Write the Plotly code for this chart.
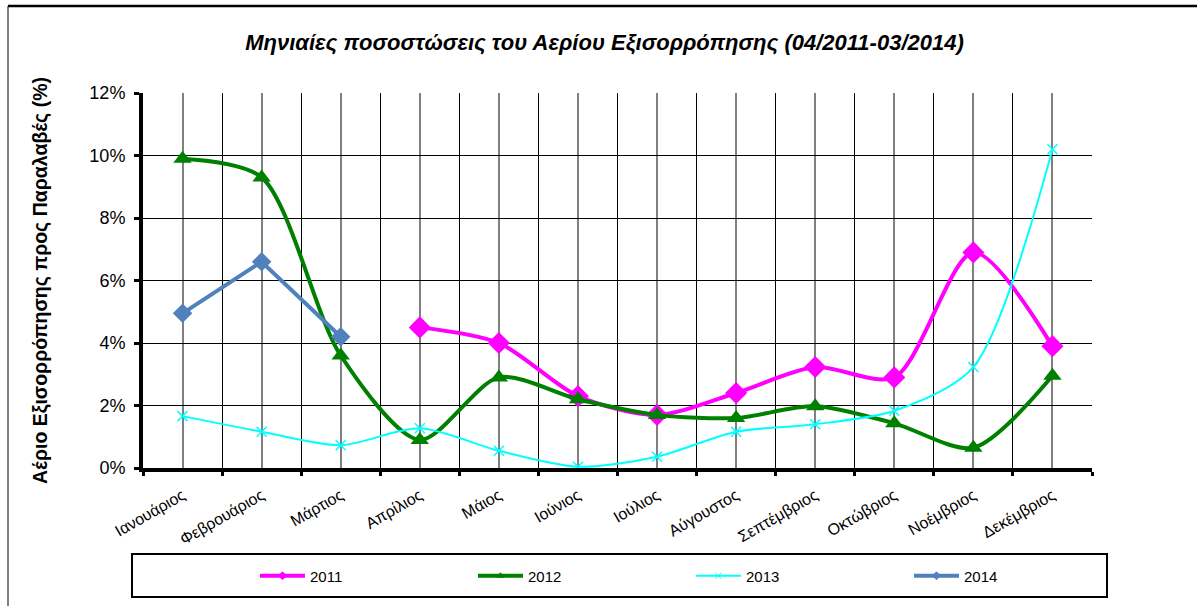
import plotly.graph_objects as go

months = ["Ιανουάριος", "Φεβρουάριος", "Μάρτιος", "Απρίλιος", "Μάιος", "Ιούνιος",
          "Ιούλιος", "Αύγουστος", "Σεπτέμβριος", "Οκτώβριος", "Νοέμβριος", "Δεκέμβριος"]
y2011 = [None, None, None, 4.5, 4.0, 2.3, 1.7, 2.4, 3.23, 2.9, 6.9, 3.9]
y2012 = [9.9, 9.3, 3.6, 0.9, 2.9, 2.2, 1.7, 1.6, 1.98, 1.43, 0.65, 2.95]
y2013 = [1.66, 1.16, 0.73, 1.27, 0.55, 0.04, 0.36, 1.16, 1.4, 1.83, 3.23, 10.2]
y2014 = [4.95, 6.6, 4.2, None, None, None, None, None, None, None, None, None]
yticks = [0, 2, 4, 6, 8, 10, 12]
ytick_labels = ["0%", "2%", "4%", "6%", "8%", "10%", "12%"]

x = list(range(len(months)))
FONT = "Arial, Liberation Sans, sans-serif"

series = [
    ("2011", y2011, dict(color="#FF00FF", width=4, shape="spline", smoothing=0.8),
     dict(symbol="diamond", size=17, color="#FF00FF"), "diamond"),
    ("2012", y2012, dict(color="#008000", width=4, shape="spline", smoothing=0.8),
     dict(symbol="triangle-up", size=16, color="#008000"), "triangle-up"),
    ("2013", y2013, dict(color="#00FFFF", width=2, shape="spline", smoothing=0.8),
     dict(symbol="x-thin", size=10, color="#00FFFF", line=dict(color="#00FFFF", width=1.5)),
     "x-thin"),
    ("2014", y2014, dict(color="#4F81BD", width=4),
     dict(symbol="diamond", size=15, color="#4F81BD"), "diamond"),
]

fig = go.Figure()
for name, ys, line, marker, sym in series:
    fig.add_trace(go.Scatter(x=x, y=ys, name=name, mode="lines+markers",
                             line=line, marker=marker, showlegend=False))
for name, ys, line, marker, sym in series:
    lw = line["width"]
    fig.add_trace(go.Scatter(x=[None], y=[None], name=name, mode="lines+markers",
                             line=dict(color=line["color"], width=lw),
                             marker=dict(symbol=sym, size=6, color=line["color"],
                                         line=dict(color=line["color"], width=1)),
                             showlegend=True))

fig.update_layout(
    width=1197, height=606,
    margin=dict(l=143, r=105, t=93, b=138),
    paper_bgcolor="white", plot_bgcolor="white",
    font=dict(family=FONT, color="black"),
    title=dict(text="<b><i>Μηνιαίες ποσοστώσεις του Αερίου Εξισορρόπησης (04/2011-03/2014)</i></b>",
               x=0.505, xanchor="center", y=0.93, yanchor="middle",
               font=dict(size=22, family=FONT, color="black")),
    xaxis=dict(range=[-0.5, 11.5], tickmode="array", tickvals=x, ticktext=months,
               tickangle=-30, tickfont=dict(size=16, family=FONT), ticklabelstandoff=8,
               showgrid=True, gridcolor="#808080", gridwidth=1.5,
               ticks="", showline=True, linecolor="black", linewidth=4,
               minor=dict(tickmode="linear", tick0=-0.5, dtick=1, showgrid=True,
                          gridcolor="black", gridwidth=1, ticks="outside",
                          ticklen=4, tickwidth=3, tickcolor="black"),
               zeroline=False, fixedrange=True, automargin=False),
    yaxis=dict(range=[0, 12], tickmode="array", tickvals=yticks, ticktext=ytick_labels,
               tickfont=dict(size=18, family=FONT), ticklabelstandoff=5,
               showgrid=True, gridcolor="black", gridwidth=1,
               ticks="outside", ticklen=5, tickwidth=3, tickcolor="black",
               showline=True, linecolor="black", linewidth=4, zeroline=False,
               automargin=False, fixedrange=True,
               title=dict(text="<b>Αέριο Εξισορρόπησης προς Παραλαβές (%)</b>",
                          font=dict(size=19.5, family=FONT), standoff=38)),
    showlegend=True,
    legend=dict(orientation="h", x=0.118, xanchor="left", y=-0.288, yanchor="middle",
                entrywidth=158, entrywidthmode="pixels", itemsizing="trace",
                font=dict(size=15, family="Liberation Sans Narrow, Arial Narrow, " + FONT),
                bgcolor="rgba(0,0,0,0)", itemwidth=45),
    shapes=[
        dict(type="rect", xref="paper", yref="paper",
             x0=(132 - 143) / 949, x1=(1107 - 143) / 949,
             y0=(468 - 597) / 375, y1=(468 - 554) / 375,
             line=dict(color="black", width=2)),
        dict(type="line", xref="paper", yref="paper",
             x0=(8 - 143) / 949, x1=(1200 - 143) / 949,
             y0=(468 - 6) / 375, y1=(468 - 6) / 375,
             line=dict(color="black", width=2.5)),
        dict(type="line", xref="paper", yref="paper",
             x0=(8 - 143) / 949, x1=(8 - 143) / 949,
             y0=(468 - 6) / 375, y1=(468 - 610) / 375,
             line=dict(color="black", width=1)),
    ],
)

fig.write_html("out.html", config={"displayModeBar": False},
               post_script="document.body.style.margin='0';document.body.style.overflow='hidden';")
